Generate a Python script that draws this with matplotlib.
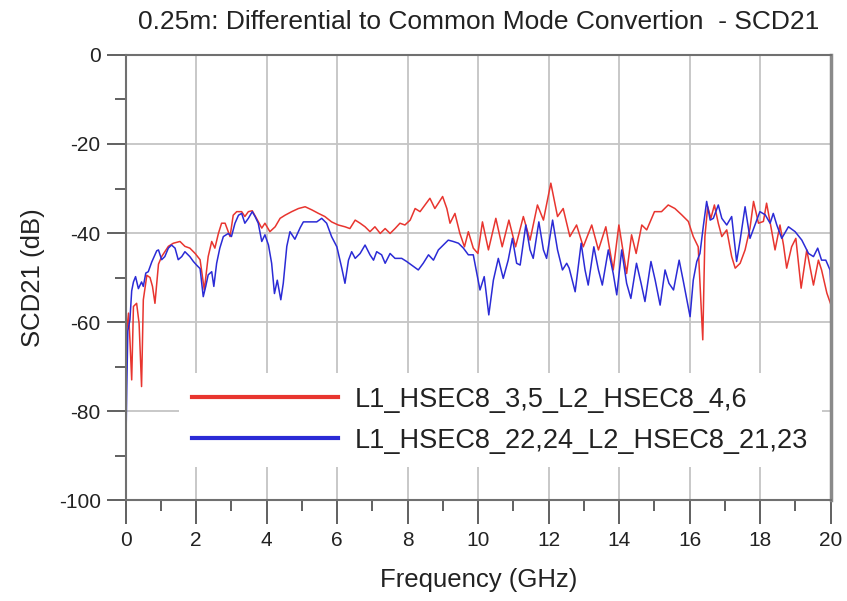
import matplotlib
matplotlib.use("Agg")
import matplotlib.pyplot as plt
from matplotlib.ticker import MultipleLocator

# datos (GHz, dB)
red_label = "L1_HSEC8_3,5_L2_HSEC8_4,6"
red_freq = [0.03, 0.08, 0.12, 0.17, 0.22, 0.31, 0.38, 0.45, 0.5, 0.6, 0.69, 0.76, 0.83, 0.93,
            1.02, 1.21, 1.35, 1.54, 1.68, 1.82, 1.97, 2.11, 2.23, 2.34, 2.44, 2.53, 2.63, 2.72,
            2.82, 2.96, 3.05, 3.15, 3.29, 3.38, 3.48, 3.59, 3.71, 3.86, 3.95, 4.09, 4.24, 4.38,
            4.52, 4.71, 4.9, 5.09, 5.28, 5.47, 5.65, 5.84, 6.03, 6.22, 6.36, 6.51, 6.65, 6.79,
            6.93, 7.07, 7.22, 7.36, 7.5, 7.64, 7.78, 7.92, 8.07, 8.21, 8.35, 8.49, 8.63, 8.77,
            8.87, 8.99, 9.11, 9.2, 9.34, 9.48, 9.61, 9.72, 9.86, 9.99, 10.12, 10.29, 10.5, 10.68,
            10.87, 11.06, 11.28, 11.47, 11.68, 11.85, 12.06, 12.25, 12.41, 12.6, 12.79, 12.98,
            13.22, 13.41, 13.62, 13.83, 13.99, 14.21, 14.35, 14.48, 14.64, 14.78, 15.0, 15.2,
            15.39, 15.58, 15.77, 15.96, 16.1, 16.24, 16.37, 16.43, 16.51, 16.6, 16.7, 16.81,
            16.91, 17.05, 17.19, 17.29, 17.43, 17.57, 17.71, 17.81, 17.95, 18.09, 18.18, 18.31,
            18.42, 18.56, 18.66, 18.75, 18.89, 19.01, 19.16, 19.32, 19.51, 19.65, 19.74, 19.89,
            20.0]
red_db = [-62, -58, -64, -73, -56.5, -55.8, -60.3, -74.5, -55, -49.5, -50, -52, -55.8, -47,
          -45.3, -43, -42.3, -41.9, -43, -43.4, -44.6, -46, -52.8, -45.3, -41.9, -43.4, -40.1, -37.8,
          -37.8, -40.8, -36, -35.2, -35.2, -36.3, -35.2, -35, -36.7, -38.9, -37.8, -39.7, -38.6, -36.7,
          -36, -35.2, -34.5, -34.1, -34.8, -35.6, -36.3, -37.5, -38.2, -38.6, -39, -37.1, -37.8, -38.6,
          -39.7, -38.6, -40.1, -39, -40.1, -39, -37.8, -38.2, -37.1, -34.5, -35.2, -33.7, -32.2, -34.5,
          -33.3, -31.8, -34.5, -37.8, -35.6, -40.1, -43.1, -39.7, -43.4, -44.6, -37.5, -43.8, -36.7, -43.1,
          -37.1, -43.1, -36.3, -41.6, -33.7, -37.1, -28.8, -36.3, -34.5, -40.8, -38.2, -43.1,
          -38.2, -43.8, -38.6, -48.3, -38.2, -49.1, -40.4, -44.6, -38.2, -39.3, -35.2, -35.2,
          -33.7, -34.5, -35.9, -37.4, -40.8, -43.1, -64, -40.8, -34.1, -36.7, -33.7, -37.8,
          -40.8, -39.3, -45.3, -47.9, -46.8, -43.8, -38.9, -32.9, -37.8, -37.4, -33.3, -38.9,
          -43.8, -38.2, -42.7, -47.9, -43.1, -41.2, -52.4, -43.8, -51.7, -46.1, -48.3, -53.5,
          -56]

blue_label = "L1_HSEC8_22,24_L2_HSEC8_21,23"
blue_freq = [0.0, 0.03, 0.06, 0.12, 0.17, 0.22, 0.28, 0.36, 0.45, 0.5, 0.57, 0.64, 0.74, 0.88,
             0.93, 1.02, 1.11, 1.21, 1.3, 1.4, 1.49, 1.59, 1.68, 1.82, 1.92, 2.01, 2.11, 2.2,
             2.27, 2.34, 2.44, 2.5, 2.58, 2.67, 2.77, 2.91, 3.0, 3.1, 3.2, 3.29, 3.38, 3.48,
             3.59, 3.67, 3.76, 3.86, 3.95, 4.05, 4.14, 4.22, 4.3, 4.4, 4.47, 4.57, 4.66, 4.8,
             4.95, 5.04, 5.23, 5.42, 5.56, 5.7, 5.84, 5.99, 6.13, 6.22, 6.32, 6.41, 6.51, 6.65,
             6.79, 6.93, 7.03, 7.12, 7.26, 7.36, 7.5, 7.64, 7.83, 7.97, 8.11, 8.3, 8.44, 8.59,
             8.73, 8.87, 9.01, 9.15, 9.29, 9.44, 9.58, 9.72, 9.86, 9.96, 10.05, 10.17, 10.3,
             10.43, 10.57, 10.71, 10.85, 10.97, 11.09, 11.19, 11.35, 11.47, 11.56, 11.72, 11.85,
             11.94, 12.11, 12.25, 12.39, 12.51, 12.58, 12.75, 12.92, 13.03, 13.12, 13.28, 13.41,
             13.52, 13.69, 13.83, 13.93, 14.07, 14.21, 14.33, 14.49, 14.62, 14.73, 14.9, 15.02,
             15.16, 15.3, 15.41, 15.54, 15.7, 15.82, 16.01, 16.1, 16.2, 16.29, 16.39, 16.48,
             16.58, 16.67, 16.81, 16.91, 17.05, 17.19, 17.33, 17.43, 17.57, 17.71, 17.85, 17.99,
             18.14, 18.28, 18.37, 18.47, 18.61, 18.8, 18.99, 19.18, 19.37, 19.51, 19.63, 19.74,
             19.86, 19.98, 20.0]
blue_db = [-91, -75, -62, -59.5, -53, -51, -49.8, -52.5, -51, -52, -49, -48.7, -46.5, -44,
           -43.8, -46, -45.3, -43.4, -42.7, -43.4, -46, -45.3, -44.2, -45.3, -46.4, -47.2, -48, -54.3,
           -52, -49.4, -48.7, -52, -46.8, -43.4, -40.8, -40.1, -40.8, -37.8, -36, -35.6, -37.8, -36.7,
           -35.2, -36.3, -37.8, -41.9, -40.4, -42.7, -46.8, -53.6, -50.6, -55, -51.3, -43, -39.7, -41.4,
           -38.8, -37.5, -37.5, -37.5, -36.7, -37.8, -40.8, -43.1, -47.9, -51.3, -46.1, -44.2, -45.7, -44.6,
           -42.7, -44.9, -46.1, -44.2, -44.9, -46.8, -44.6, -45.7, -45.7, -46.4, -47.2, -48.3, -46.8, -44.9,
           -46.1, -43.8, -42.7, -41.6, -41.9, -42.3, -43.4, -44.9, -44.9, -49.1, -52.8, -49.8, -58.4,
           -50.6, -45.7, -50.2, -46.1, -41.2, -46.8, -47.2, -38.2, -43.8, -45.7, -37.5, -43.8,
           -45.7, -37.1, -43.8, -48.3, -46.8, -47.9, -53.2, -42.3, -48.3, -51.7, -43.1, -48.3,
           -51.7, -43.8, -49.1, -53.9, -43.8, -51.3, -54.7, -46.8, -51.3, -55.4, -46.4, -50.6,
           -56.2, -48.3, -51.3, -52.8, -46.1, -50.9, -58.8, -50.6, -46.4, -44.6, -38.2, -32.9,
           -37.1, -36.7, -33.7, -36.7, -38.2, -36.3, -46.4, -41.6, -34.1, -41.2, -38.2, -35.2,
           -35.9, -37.8, -35.6, -38.2, -41.2, -38.6, -39.7, -41.6, -44.6, -45.3, -43.4, -46.1,
           -46.1, -48.3, -51.3]

plt.rcParams["font.family"] = ["Liberation Sans", "DejaVu Sans"]
plt.rcParams["axes.unicode_minus"] = False

fig = plt.figure(figsize=(8.47, 6.01), dpi=100)
ax = fig.add_axes([0.1484, 0.168, 0.8324, 0.7405])

ax.plot(red_freq, red_db, color="#e8352f", lw=1.1, label=red_label)
ax.plot(blue_freq, blue_db, color="#2b2bd6", lw=1.1, label=blue_label)

ax.set_xlim(0, 20)
ax.set_ylim(-100, 0)
ax.xaxis.set_major_locator(MultipleLocator(2))
ax.xaxis.set_minor_locator(MultipleLocator(1))
ax.yaxis.set_major_locator(MultipleLocator(20))
ax.yaxis.set_minor_locator(MultipleLocator(10))

# rejilla gris solo en los ticks mayores
ax.grid(True, which="major", color="#c4c4c4", lw=1.3)
ax.set_axisbelow(True)

for s in ax.spines.values():
    s.set_color("#707070")
    s.set_linewidth(1.5)
ax.spines["right"].set_linewidth(2.5)
ax.spines["right"].set_color("#8a8a8a")

ax.tick_params(which="major", direction="out", length=14, width=1.4, color="#606060",
               labelsize=15, labelcolor="#222222", pad=4)
ax.tick_params(axis="x", which="major", length=17, pad=5)
ax.tick_params(which="minor", direction="out", length=8, width=1.4, color="#606060")

ax.set_xlabel("Frequency (GHz)", fontsize=18.5, color="#222222", labelpad=13)
ax.set_ylabel("SCD21 (dB)", fontsize=18.5, color="#222222", labelpad=10)
ax.set_title("0.25m: Differential to Common Mode Convertion  - SCD21", fontsize=19,
             color="#222222", pad=19)

leg = ax.legend(loc="upper left", bbox_to_anchor=(0.075, 0.285), borderaxespad=0,
                fontsize=19.5, handlelength=5.4, handletextpad=0.6, labelspacing=0.55,
                borderpad=0.5, frameon=True, fancybox=False)
leg.get_frame().set_facecolor("white")
leg.get_frame().set_edgecolor("none")
leg.get_frame().set_alpha(1)
for line in leg.get_lines():
    line.set_linewidth(3)
for t in leg.get_texts():
    t.set_color("#222222")

fig.savefig("out.png", dpi=100)
